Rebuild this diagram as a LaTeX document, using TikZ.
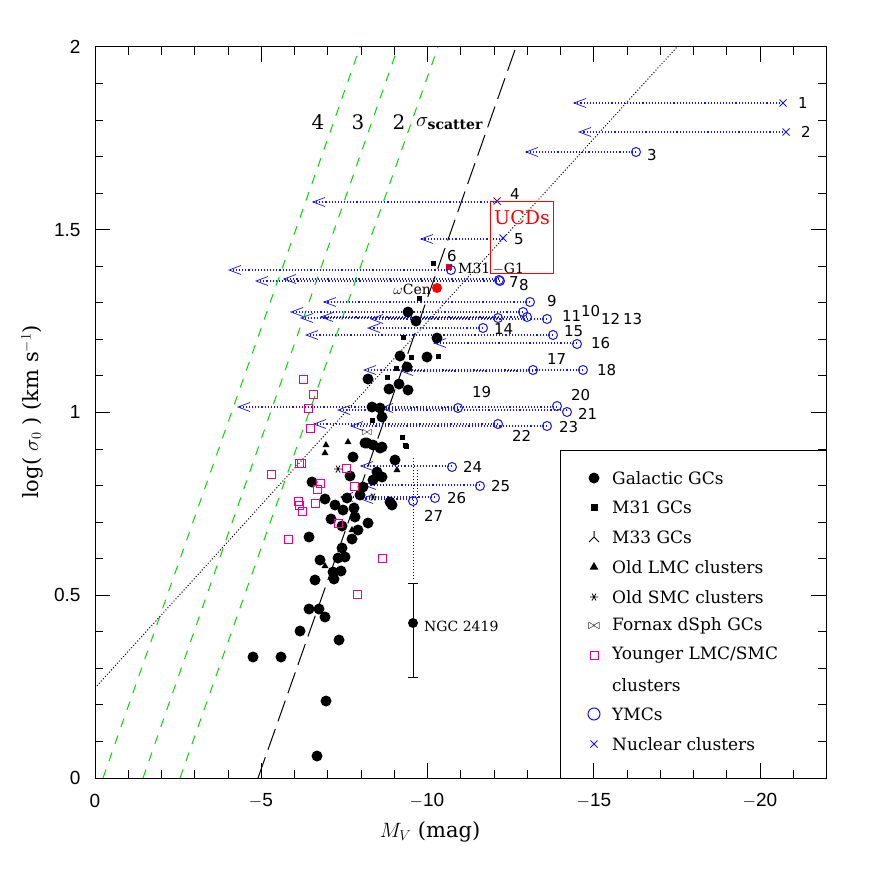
\documentclass[tikz,border=0pt]{standalone}
\usepackage{amssymb}
\usepackage{fontspec}
\setmainfont{DejaVu Serif}
\setsansfont{Liberation Sans}
\newfontfamily\numfont{DejaVu Sans}
\usetikzlibrary{arrows.meta,shapes.geometric}
\definecolor{bl}{RGB}{20,20,235}
\definecolor{gr}{RGB}{0,220,0}
\tikzset{
 gcd/.style={circle,fill=black,inner sep=0pt,minimum size=11pt},
 msq/.style={rectangle,fill=black,inner sep=0pt,minimum size=5pt},
 ymc/.style={circle,draw=bl,line width=1pt,inner sep=0pt,minimum size=9pt},
 tri/.style={regular polygon,regular polygon sides=3,fill=black,inner sep=0pt,minimum size=8pt},
 arr/.style={bl,dotted,line width=1.1pt,-{Straight Barb[length=12pt,width=9pt,line width=0.7pt]}},
 lab/.style={font=\numfont\fontsize{15}{15}\selectfont,anchor=west,inner sep=1pt},
 leg/.style={font=\fontsize{17}{17}\selectfont,anchor=west,inner sep=0pt},
 nc/.pic={\draw[bl,line width=1pt] (-3.5,-3.5)--(3.5,3.5) (-3.5,3.5)--(3.5,-3.5);},
 sm/.pic={\draw[black,line width=0.8pt] (-4,0)--(4,0) (-2,-3.5)--(2,3.5) (-2,3.5)--(2,-3.5);},
}
\begin{document}
\begin{tikzpicture}[x=1pt,y=-1pt]
\useasboundingbox (0,0) rectangle (872,872);
\fill[white] (0,0) rectangle (872,872);
\begin{scope}
\clip (95,47) rectangle (826,778);
\draw[gr,dash pattern=on 9pt off 9pt,line width=1pt] (103,778)--(360,47);
\draw[gr,dash pattern=on 9pt off 9pt,line width=1pt] (143,778)--(398,47);
\draw[gr,dash pattern=on 9pt off 9pt,line width=1pt] (180,778)--(438,47);
\draw[black,dash pattern=on 22pt off 8pt,line width=1pt] (258,778)--(516,47);
\draw[black,dotted,line width=1pt] (95,688)--(677,47);
\end{scope}
\foreach \a/\b/\y in {783/573/103,786/578/132,636/525/152,497/312/202,503/420/239,451/228/270,499/283/279,500/255/281,530/323/302,523/290/312,527/320/317,547/370/319,498/300/318,483/367/328,553/305/335,577/433/343,583/363/370,533/400/371,557/237/407,567/337/410,458/380/408,498/313/424,547/350/426,452/360/466,480/363/485,435/340/497,413/360/499}
  \draw[arr] (\a,\y)--(\b,\y);
\draw[dotted,line width=1pt] (413,458)--(413,580);
\draw[dotted,line width=1pt] (417,470)--(417,500);
\draw[line width=1pt] (413,583)--(413,677) (408,583)--(418,583) (408,677)--(418,677);
\node[gcd,minimum size=10pt] (ngc) at (413,623) {};
\node[leg,font=\fontsize{14}{14}\selectfont] at (424,626) {NGC 2419};
\foreach \p in {(253,657),(281,657),(317,756),(326,701),(339,640),(300,631),(309,609),(319,609),(325,617),(315,580),(334,579),(333,572),(341,571),(342,548),(345,557),(338,558),(352,539),(309,537),(331,519),(342,526),(368,523),(355,517),(354,508),(343,510),(325,499),(350,476),(312,482),(353,457),(365,443),(380,448),(373,480),(382,477),(377,472),(392,505),(395,460),(363,487),(360,495),(390,502),(408,312),(416,321),(437,338),(400,356),(427,357),(407,367),(368,379),(399,384),(389,389),(408,390),(372,407),(380,408),(382,417),(367,443),(373,445),(382,447),(347,498),(335,505),(358,530),(320,560)}
  \node[gcd] at \p {};
\foreach \p in {(433,263),(419,298),(403,337),(411,357),(396,368),(387,377),(372,420),(402,437),(405,445),(438,356),(406,446)}
  \node[msq] at \p {};
\foreach \p in {(326,445),(348,442),(325,453),(325,566),(352,530),(379,472),(397,470)}
  \node[tri] at \p {};
\pic at (373,497) {sm};
\pic at (338,469) {sm};
\node[font=\fontsize{12}{12}\selectfont] at (367,433) {$\bowtie$};
\foreach \x/\y in {303/379,313/394,308/408,310/428,271/474,299/463,301/463,320/483,317/489,315/503,298/501,299/505,302/511,288/539,338/523,346/468,354/486,382/558,357/594}
  \draw[magenta,line width=1pt] (\x-4,\y-4) rectangle (\x+4,\y+4);
\foreach \p in {(636,152),(499,280),(500,281),(530,302),(523,312),(527,317),(547,319),(498,318),(483,328),(553,335),(577,344),(533,370),(583,370),(458,408),(557,406),(567,412),(498,424),(547,426),(452,467),(480,486),(435,498),(413,501)}
  \node[ymc] at \p {};
\foreach \p in {(783,103),(786,132),(497,201),(503,238)}
  \pic at \p {nc};
\node[rectangle,fill=red,minimum size=6pt,inner sep=0pt] at (449,267) {};
\node[ymc] (g1) at (451,270) {};
\node[circle,fill=red,inner sep=0pt,minimum size=10pt] (ocen) at (437,288) {};
\node[leg,font=\fontsize{14}{14}\selectfont,anchor=east] at (431,289) {$\omega$Cen};
\node[leg,font=\fontsize{14}{14}\selectfont] at (458,269) {M31\,$-$G1};
\foreach \t/\x/\y in {1/797/103,2/800/132,3/646/155,4/509/194,5/513/239,6/446/256,7/508/282,8/518/285,9/546/301,10/580/311,11/561/316,12/600/319,13/622/319,14/493/329,15/563/331,16/590/343,17/546/359,18/596/370,19/471/392,20/570/395,21/577/414,22/511/436,23/558/427,24/462/467,25/490/486,26/446/498,27/423/516}
  \node[lab] at (\x,\y) {\t};
\draw[red,line width=1pt] (490,201) rectangle (553,273);
\node[red,font=\fontsize{19}{19}\selectfont,inner sep=0pt] at (522,218) {UCDs};
\node[font=\fontsize{20}{20}\selectfont] at (318,122) {4};
\node[font=\fontsize{20}{20}\selectfont] at (358,122) {3};
\node[font=\fontsize{20}{20}\selectfont] at (399,122) {2};
\node[font=\fontsize{20}{20}\selectfont,anchor=west,inner sep=0pt] at (416,124) {$\sigma_{\mathbf{scatter}}$};
\draw[line width=1pt,fill=white] (560,450) rectangle (826,778);
\node[gcd,minimum size=11pt] at (594,478) {};
\node[msq,minimum size=7pt] at (594,507) {};
\draw[line width=1pt] (594,537)--(594,531) (594,537)--(589,542) (594,537)--(599,542);
\node[tri,minimum size=10pt] at (594,567) {};
\pic at (594,597) {sm};
\node[font=\fontsize{14}{14}\selectfont] at (594,626) {$\bowtie$};
\draw[magenta,line width=1pt] (590,651) rectangle (598,659);
\node[ymc,minimum size=12pt] at (594,714) {};
\pic at (594,744) {nc};
\foreach \t/\y in {Galactic GCs/478,M31 GCs/507,M33 GCs/537,Old LMC clusters/567,Old SMC clusters/597,Fornax dSph GCs/626,{Younger LMC{/}SMC}/655,clusters/685,YMCs/714,Nuclear clusters/744}
  \node[leg] at (612,\y) {\t};
\draw[line width=1pt] (95,47) rectangle (826,778);
\foreach \k in {0,...,21} {
  \pgfmathsetmacro\xx{95+33.25*\k}
  \pgfmathsetmacro\tl{ifthenelse(mod(\k,5)==0,15,8)}
  \draw[line width=1pt] (\xx,778)--++(0,-\tl) (\xx,47)--++(0,\tl);
}
\foreach \k in {0,...,19} {
  \pgfmathsetmacro\yy{778-36.55*\k}
  \pgfmathsetmacro\tl{ifthenelse(mod(\k,5)==0,15,8)}
  \draw[line width=1pt] (95,\yy)--++(\tl,0) (826,\yy)--++(-\tl,0);
}
\foreach \t/\x in {0/95,$-$5/261,$-$10/427,$-$15/594,$-$20/760}
  \node[font=\sffamily\fontsize{19}{19}\selectfont] at (\x,801) {\t};
\foreach \t/\y in {0/778,0.5/595,1/412,1.5/230,2/47}
  \node[font=\sffamily\fontsize{19}{19}\selectfont,anchor=east] at (84,\y) {\t};
\node[font=\fontsize{21}{21}\selectfont] at (430,832) {$M_V$ (mag)};
\node[font=\fontsize{21}{21}\selectfont,rotate=90] at (32,412) {log( $\sigma_0$ )  (km s$^{-1}$)};
\end{tikzpicture}
\end{document}
